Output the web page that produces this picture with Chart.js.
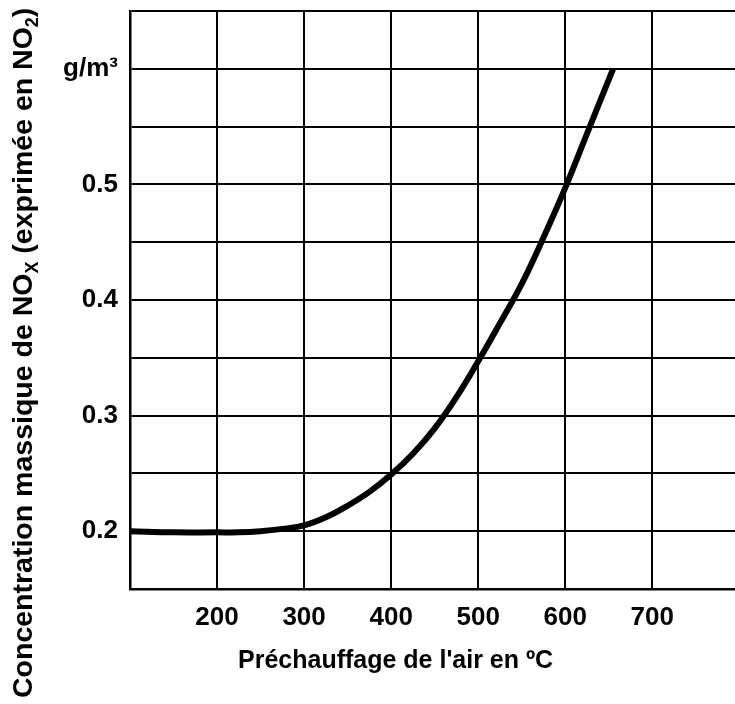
<!DOCTYPE html>
<html>
<head>
<meta charset="utf-8">
<script src="https://cdn.jsdelivr.net/npm/chart.js@4/dist/chart.umd.min.js"></script>
<style>
  html, body { margin: 0; padding: 0; background: #fff; }
  #wrap { position: relative; width: 735px; height: 704px; }
</style>
</head>
<body>
<div id="wrap"><canvas id="noxChart"></canvas></div>
<script>
// air preheat temperature (°C) and NOx concentration (g/m3)
const temperatures = [100, 150, 200, 225, 250, 275, 300, 325, 350, 375, 400, 425, 450, 475, 500, 525, 550, 575, 600, 625, 655];
const concentrations = [0.200, 0.199, 0.199, 0.199, 0.200, 0.202, 0.205, 0.212, 0.222, 0.234, 0.249, 0.267, 0.289, 0.316, 0.347, 0.380, 0.414, 0.454, 0.497, 0.544, 0.600];

// grid positions and the labels printed on them
const xTickValues = [100, 200, 300, 400, 500, 600, 700];
const xTickLabels = ['', '200', '300', '400', '500', '600', '700'];
const yTickValues = [0.15, 0.20, 0.25, 0.30, 0.35, 0.40, 0.45, 0.50, 0.55, 0.60, 0.65];
const yTickLabels = ['', '0.2', '', '0.3', '', '0.4', '', '0.5', '', 'g/m³', ''];

const xTitle = "Préchauffage de l'air en ºC";
// y title pieces, sub = subscript
const yTitle = [
  { text: 'Concentration massique de NO' },
  { text: 'X', sub: true },
  { text: ' (exprimée en NO' },
  { text: '2', sub: true },
  { text: ')' }
];

const FONT = '"Liberation Sans", Arial, Helvetica, sans-serif';

// no extra room for half labels at the ends of the axes
function noPadding(scale) {
  scale.paddingTop = 0;
  scale.paddingBottom = 0;
  scale.paddingLeft = 0;
  scale.paddingRight = 0;
}

const axisTitles = {
  id: 'axisTitles',
  afterDraw(chart) {
    const ctx = chart.ctx;
    ctx.save();
    ctx.fillStyle = '#000';
    ctx.textBaseline = 'alphabetic';
    ctx.textAlign = 'left';

    ctx.font = 'bold 25px ' + FONT;
    ctx.fillText(xTitle, 238, 668);

    // vertical title, drawn bottom to top
    ctx.translate(32, 698);
    ctx.rotate(-Math.PI / 2);
    let pos = 0;
    yTitle.forEach(part => {
      ctx.font = part.sub ? 'bold 18px ' + FONT : 'bold 28.5px ' + FONT;
      ctx.fillText(part.text, pos, part.sub ? 6 : 0);
      pos += ctx.measureText(part.text).width;
    });
    ctx.restore();
  }
};

new Chart(document.getElementById('noxChart'), {
  type: 'line',
  data: {
    datasets: [{
      data: temperatures.map((t, i) => ({ x: t, y: concentrations[i] })),
      borderColor: '#000',
      borderWidth: 6,
      pointRadius: 0,
      fill: false,
      tension: 0.4
    }]
  },
  options: {
    responsive: true,
    maintainAspectRatio: false,
    animation: false,
    layout: { padding: { top: 11, right: 0, left: 0, bottom: 0 } },
    plugins: {
      legend: { display: false },
      tooltip: { enabled: false }
    },
    scales: {
      x: {
        type: 'linear',
        min: 100,
        max: 795,
        afterBuildTicks: scale => { scale.ticks = xTickValues.map(v => ({ value: v })); },
        afterFit: scale => { scale.height = 115; noPadding(scale); },
        grid: { color: '#000', lineWidth: 2, drawTicks: false },
        border: { color: '#000', width: 2.5 },
        ticks: {
          padding: 13,
          color: '#000',
          font: { family: FONT, size: 26, weight: 'bold' },
          maxRotation: 0,
          autoSkip: false,
          callback: (value, index) => xTickLabels[index]
        }
      },
      y: {
        min: 0.15,
        max: 0.65,
        afterBuildTicks: scale => { scale.ticks = yTickValues.map(v => ({ value: v })); },
        afterFit: scale => { scale.width = 130; noPadding(scale); },
        grid: { color: '#000', lineWidth: 2, drawTicks: false },
        border: { color: '#000', width: 2.5 },
        ticks: {
          padding: 12,
          color: '#000',
          font: { family: FONT, size: 26, weight: 'bold' },
          autoSkip: false,
          callback: (value, index) => yTickLabels[index]
        }
      }
    }
  },
  plugins: [axisTitles]
});
</script>
</body>
</html>
